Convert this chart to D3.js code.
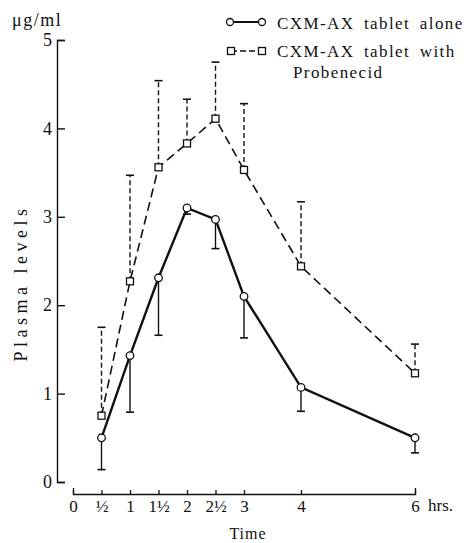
<!DOCTYPE html>
<html>
<head>
<meta charset="utf-8">
<script src="https://cdn.jsdelivr.net/npm/d3@7"></script>
<style>
  body { margin: 0; background: #fff; }
  svg text { font-family: "Liberation Serif", "DejaVu Serif", serif; fill: #111; }
</style>
</head>
<body>
<script>
// values (ug/ml)
var times = [0.5, 1, 1.5, 2, 2.5, 3, 4, 6];
var aloneMean = [0.50, 1.43, 2.31, 3.10, 2.97, 2.10, 1.07, 0.50];
var aloneLow = [0.14, 0.79, 1.66, 3.03, 2.64, 1.63, 0.80, 0.33];
var probMean = [0.75, 2.27, 3.56, 3.83, 4.11, 3.53, 2.44, 1.23];
var probHigh = [1.75, 3.47, 4.54, 4.33, 4.75, 4.28, 3.17, 1.56];
var xTickValues = [0, 0.5, 1, 1.5, 2, 2.5, 3, 4, 6];
var xTickLabels = ["0", "½", "1", "1½", "2", "2½", "3", "4", "6"];
var yTickValues = [0, 1, 2, 3, 4, 5];
var legendLabels = ["CXM-AX tablet alone", "CXM-AX tablet with", "Probenecid"];

var svg = d3.select("body").append("svg")
    .attr("width", 468)
    .attr("height", 543);

var x = d3.scaleLinear().domain([0, 6]).range([73, 415]);
var y = d3.scaleLinear().domain([0, 5]).range([482, 40]);

// y axis, ticks pointing inward
var yAxis = d3.axisLeft(y).tickValues(yTickValues).tickFormat(d3.format("d"))
    .tickSize(-8).tickSizeOuter(-8).tickPadding(5);
var gy = svg.append("g").attr("transform", "translate(57,0)").call(yAxis);
gy.selectAll("text").style("font-size", "18px").attr("font-family", null);
gy.selectAll("path, line").attr("stroke", "#111").attr("stroke-width", 1.4);

// x axis sits below the y origin
var xAxis = d3.axisBottom(x).tickValues(xTickValues)
    .tickFormat(function(d, i) { return xTickLabels[i]; })
    .tickSize(-4).tickSizeOuter(-6).tickPadding(6);
var gx = svg.append("g").attr("transform", "translate(0,494)").call(xAxis);
gx.selectAll("text").style("font-size", "17px").attr("font-family", null);
gx.selectAll("path, line").attr("stroke", "#111").attr("stroke-width", 1.3);

svg.append("text").attr("x", 428).attr("y", 511).style("font-size", "17px").text("hrs.");
svg.append("text").attr("x", 248).attr("y", 539).attr("text-anchor", "middle")
    .style("font-size", "16px").style("letter-spacing", "1px").text("Time");
svg.append("text").attr("transform", "translate(27,283) rotate(-90)")
    .attr("text-anchor", "middle").style("font-size", "18px").style("letter-spacing", "4.5px")
    .text("Plasma levels");
svg.append("text").attr("x", 12).attr("y", 26).style("font-size", "18px").style("letter-spacing", "1.5px")
    .text("μg/ml");

var alone = times.map(function(t, i) { return {t: t, v: aloneMean[i], e: aloneLow[i]}; });
var prob = times.map(function(t, i) { return {t: t, v: probMean[i], e: probHigh[i]}; });

var line = d3.line()
    .x(function(d) { return x(d.t); })
    .y(function(d) { return y(d.v); });

// error bars
function errBars(data, dash, cls) {
  var g = svg.append("g").attr("class", cls);
  g.selectAll("line.bar").data(data).enter().append("line")
    .attr("x1", function(d) { return x(d.t); })
    .attr("x2", function(d) { return x(d.t); })
    .attr("y1", function(d) { return y(d.v); })
    .attr("y2", function(d) { return y(d.e); })
    .attr("stroke", "#111").attr("stroke-width", 1.4)
    .attr("stroke-dasharray", dash);
  g.selectAll("line.cap").data(data).enter().append("line")
    .attr("x1", function(d) { return x(d.t) - 4; })
    .attr("x2", function(d) { return x(d.t) + 4; })
    .attr("y1", function(d) { return y(d.e); })
    .attr("y2", function(d) { return y(d.e); })
    .attr("stroke", "#111").attr("stroke-width", 1.6);
}
errBars(prob, "5,3", "errProb");
errBars(alone, null, "errAlone");

svg.append("path").attr("d", line(prob))
    .attr("fill", "none").attr("stroke", "#111").attr("stroke-width", 1.6)
    .attr("stroke-dasharray", "9,5");
svg.append("path").attr("d", line(alone))
    .attr("fill", "none").attr("stroke", "#111").attr("stroke-width", 2.4);

svg.append("g").selectAll("rect").data(prob).enter().append("rect")
    .attr("x", function(d) { return x(d.t) - 3.5; })
    .attr("y", function(d) { return y(d.v) - 3.5; })
    .attr("width", 7).attr("height", 7)
    .attr("fill", "#fff").attr("stroke", "#111").attr("stroke-width", 1.3);
svg.append("g").selectAll("circle").data(alone).enter().append("circle")
    .attr("cx", function(d) { return x(d.t); })
    .attr("cy", function(d) { return y(d.v); })
    .attr("r", 3.8)
    .attr("fill", "#fff").attr("stroke", "#111").attr("stroke-width", 1.3);

// legend
var lg = svg.append("g");
lg.append("line").attr("x1", 230).attr("x2", 262).attr("y1", 22).attr("y2", 22)
    .attr("stroke", "#111").attr("stroke-width", 2);
lg.selectAll("circle").data([230, 262]).enter().append("circle")
    .attr("cx", function(d) { return d; }).attr("cy", 22).attr("r", 3.5)
    .attr("fill", "#fff").attr("stroke", "#111").attr("stroke-width", 1.3);
lg.append("line").attr("x1", 231).attr("x2", 262).attr("y1", 51).attr("y2", 51)
    .attr("stroke", "#111").attr("stroke-width", 1.5).attr("stroke-dasharray", "6,3");
lg.selectAll("rect").data([231, 262]).enter().append("rect")
    .attr("x", function(d) { return d - 3.5; }).attr("y", 47.5).attr("width", 7).attr("height", 7)
    .attr("fill", "#fff").attr("stroke", "#111").attr("stroke-width", 1.3);
lg.selectAll("text").data(legendLabels).enter().append("text")
    .attr("x", function(d, i) { return i == 2 ? 293 : 277; })
    .attr("y", function(d, i) { return [29, 57, 78][i]; })
    .style("font-size", "17px").style("letter-spacing", "1.4px").style("word-spacing", "4px")
    .text(function(d) { return d; });
</script>
</body>
</html>
